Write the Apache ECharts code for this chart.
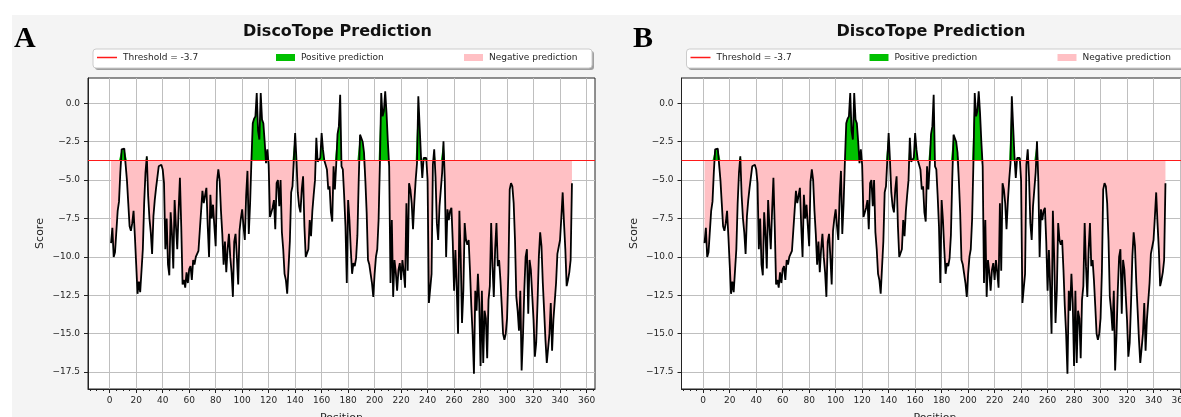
<!DOCTYPE html>
<html><head><meta charset="utf-8">
<script src="https://cdn.jsdelivr.net/npm/echarts@6/dist/echarts.min.js"></script>
<style>html,body{margin:0;padding:0;background:#fff}#c{width:1181px;height:417px}</style>
</head><body><div id="c"></div>
<script>
// DiscoTope scores, positions 1..349
const scores = [
-9.1,-8.1,-10.0,-9.7,-9.8,-7.0,-6.4,-4.5,-3.0,-2.95,
-2.95,-3.0,-5.0,-6.5,-8.0,-8.3,-7.8,-7.0,-8.65,-10.5,
-12.4,-11.6,-12.3,-12.4,-9.5,-6.5,-4.5,-3.45,-6.0,-7.5,
-8.4,-9.8,-7.35,-6.3,-5.5,-4.8,-4.1,-4.2,-4.0,-4.3,
-5.2,-9.5,-7.5,-10.5,-11.2,-7.1,-8.5,-10.75,-6.3,-8.0,
-9.5,-7.0,-4.85,-8.0,-11.8,-11.5,-12.0,-11.0,-11.7,-10.8,
-10.6,-11.5,-10.2,-10.5,-10.0,-9.8,-9.6,-8.3,-7.0,-5.7,
-6.5,-6.0,-5.5,-8.0,-10.0,-5.95,-7.5,-6.6,-8.0,-9.3,
-5.1,-4.3,-5.0,-7.0,-8.5,-10.5,-9.0,-11.0,-9.5,-8.5,
-10.0,-11.0,-12.6,-9.0,-8.5,-10.0,-11.8,-8.3,-7.5,-6.9,
-8.0,-8.9,-6.0,-4.4,-8.5,-6.5,-3.7,-1.3,-1.0,-0.85,
0.67,-1.8,-2.36,0.67,-1.06,-1.3,-2.5,-3.9,-3.0,-4.0,
-7.4,-7.1,-6.8,-6.3,-8.2,-5.2,-5.0,-6.7,-5.0,-8.4,
-9.5,-11.1,-11.5,-12.4,-12.4,-9.0,-5.8,-5.4,-5.4,-1.93,
-3.7,-5.8,-6.7,-7.1,-5.6,-4.75,-8.0,-10.0,-10.1,-9.5,
-7.6,-8.65,-7.0,-5.95,-5.0,-2.25,-3.8,-3.7,-3.55,-1.93,
-3.0,-3.7,-4.0,-4.3,-5.6,-5.4,-7.1,-7.7,-4.1,-5.6,
-4.0,-2.0,-1.5,0.56,-4.1,-4.3,-6.0,-8.0,-11.7,-6.3,
-7.6,-9.5,-11.1,-10.4,-10.6,-10.1,-8.6,-5.0,-2.04,-1.93,
-2.5,-3.2,-5.0,-7.1,-10.2,-10.5,-11.1,-11.7,-12.6,-11.1,
-10.0,-9.5,-7.6,-3.9,0.67,-0.85,-0.5,0.78,-0.63,-2.5,
-4.1,-11.7,-7.6,-12.6,-10.2,-11.0,-12.2,-10.85,-10.4,-11.5,
-10.2,-11.0,-12.0,-6.5,-10.9,-5.2,-5.6,-6.5,-8.2,-6.4,
-5.0,-3.9,0.46,0.35,-3.45,-4.86,-3.56,-3.6,-3.56,-5.0,
-13.0,-12.9,-11.1,-4.0,-3.0,-4.8,-7.8,-8.9,-6.7,-6.7,
-4.5,-2.47,-5.0,-10.0,-6.9,-7.6,-7.0,-6.8,-9.0,-12.2,
-9.55,-12.0,-15.0,-7.0,-10.0,-14.3,-12.2,-7.8,-8.9,-9.2,
-8.9,-10.85,-13.2,-15.0,-17.6,-12.2,-13.5,-11.1,-13.0,-17.1,
-12.2,-16.9,-13.5,-14.0,-16.6,-12.8,-11.9,-7.8,-10.6,-12.6,
-9.5,-7.8,-10.6,-10.2,-11.5,-13.2,-15.0,-15.4,-15.0,-14.0,
-11.0,-5.6,-5.2,-5.4,-6.5,-8.9,-12.6,-13.5,-14.8,-12.2,
-17.4,-15.2,-12.2,-10.0,-9.5,-13.7,-10.2,-10.85,-12.5,-14.1,
-16.5,-15.6,-13.0,-10.0,-8.4,-9.3,-11.7,-13.5,-15.4,-16.9,
-16.8,-15.0,-13.0,-16.1,-14.1,-14.0,-11.7,-9.8,-9.9,-8.9,
-7.4,-5.8,-7.8,-9.5,-11.9,-11.5,-11.0,-10.2,-5.2
];
const threshold = -3.7;
const xTickValues = [0,20,40,60,80,100,120,140,160,180,200,220,240,260,280,300,320,340,360];
const xMinorTickValues = [-15,-10,-5,5,10,15,25,30,35,45,50,55,65,70,75,85,90,95,105,110,115,125,130,135,145,150,155,165,170,175,185,190,195,205,210,215,225,230,235,245,250,255,265,270,275,285,290,295,305,310,315,325,330,335,345,350,355,365];
const yTickValues = [-17.5,-15,-12.5,-10,-7.5,-5,-2.5,0];
const panelLabels = ['A','B'];
const titleText = 'DiscoTope Prediction';
const legendNames = ['Threshold = -3.7','Positive prediction','Negative prediction'];

const positions = scores.map((s,i)=>i+1);
const FONT = 'DejaVu Sans';
const offsets = [0, 593.5];
const X_MIN = -16.4, X_MAX = 366.4, Y_MIN = -18.6, Y_MAX = 1.65;
const RED = '#ff1a1a', GREEN = '#00c000', PINK = '#ffc0c4', GRIDC = '#bfbfbf';
const fmtY = v => (v < 0 ? '\u2212' : '') + Math.abs(v).toFixed(1);

const grid = [], xAxis = [], yAxis = [], series = [], title = [], legend = [], graphic = [];
graphic.push({type:'rect', shape:{x:12,y:15,width:1181,height:402}, style:{fill:'#f4f4f4'}, z:-10, silent:true});

offsets.forEach((off, p) => {
  grid.push({left:88+off, top:78, width:507, height:311, show:true, backgroundColor:'#fff',
    borderColor:'#222', borderWidth:1, containLabel:false, outerBoundsMode:'none'});
  xAxis.push({
    type:'value', gridIndex:p, min:X_MIN, max:X_MAX, position:'bottom',
    axisLine:{show:true, onZero:false, lineStyle:{color:'#222', width:1}},
    axisTick:{show:true, customValues:xTickValues, length:4, lineStyle:{color:'#222'}},
    axisLabel:{customValues:xTickValues, fontSize:9, color:'#262626', fontFamily:FONT, margin:7},
    splitLine:{show:true, lineStyle:{color:GRIDC, width:1}},
    name:'Position', nameLocation:'middle', nameGap:24, nameTextStyle:{fontSize:11, color:'#262626', fontFamily:FONT}
  });
  xAxis.push({
    type:'value', gridIndex:p, min:X_MIN, max:X_MAX, position:'bottom',
    axisLine:{show:false, onZero:false}, axisLabel:{show:false}, splitLine:{show:false},
    axisTick:{show:true, customValues:xMinorTickValues, length:2, lineStyle:{color:'#222'}}
  });
  yAxis.push({
    type:'value', gridIndex:p, min:Y_MIN, max:Y_MAX, position:'left',
    axisLine:{show:true, onZero:false, lineStyle:{color:'#222', width:1}},
    axisTick:{show:true, customValues:yTickValues, length:4, lineStyle:{color:'#222'}},
    axisLabel:{customValues:yTickValues, fontSize:9, color:'#262626', fontFamily:FONT, margin:8, formatter:fmtY},
    splitLine:{show:true, lineStyle:{color:GRIDC, width:1}},
    name:'Score', nameLocation:'middle', nameGap:42, nameRotate:90, nameTextStyle:{fontSize:11, color:'#262626', fontFamily:FONT}
  });
  const xi = p*2, yi = p;
  series.push({
    name:legendNames[2], type:'line', xAxisIndex:xi, yAxisIndex:yi, silent:true, showSymbol:false, animation:false,
    data: positions.map((x,i)=>[x, Math.min(scores[i], threshold)]),
    lineStyle:{width:1, opacity:0}, itemStyle:{color:PINK},
    areaStyle:{color:PINK, opacity:1, origin:threshold}, z:1
  });
  series.push({
    name:legendNames[1], type:'line', xAxisIndex:xi, yAxisIndex:yi, silent:true, showSymbol:false, animation:false,
    data: positions.map((x,i)=>[x, Math.max(scores[i], threshold)]),
    lineStyle:{width:1, opacity:0}, itemStyle:{color:GREEN},
    areaStyle:{color:GREEN, opacity:1, origin:threshold}, z:2
  });
  series.push({
    name:legendNames[0], type:'line', xAxisIndex:xi, yAxisIndex:yi, silent:true, showSymbol:false, animation:false,
    data: positions.map(x=>[x, threshold]),
    lineStyle:{width:1, opacity:0, color:RED}, itemStyle:{color:RED}, z:3,
    markLine:{silent:true, symbol:'none', label:{show:false}, animation:false,
      lineStyle:{color:RED, width:1.2, type:'solid', opacity:1}, emphasis:{disabled:true},
      data:[{yAxis:threshold, lineStyle:{color:RED, width:1.2, opacity:1}}]}
  });
  series.push({
    name:'Score', type:'line', xAxisIndex:xi, yAxisIndex:yi, silent:true, showSymbol:false, animation:false,
    data: positions.map((x,i)=>[x, scores[i]]),
    lineStyle:{width:1.8, color:'#000'}, itemStyle:{color:'#000'}, z:4
  });
  title.push({text:titleText, left:332.5+off, textAlign:'center', top:19,
    textStyle:{fontSize:16, fontWeight:'bold', fontFamily:FONT, color:'#111'}});
  graphic.push({type:'rect', shape:{x:95+off, y:51, width:499, height:19, r:3}, style:{fill:'rgba(0,0,0,0.35)'}, z:0, silent:true});
  graphic.push({type:'rect', shape:{x:93+off, y:49, width:499, height:19, r:3}, style:{fill:'#fff', stroke:'#cccccc', lineWidth:1}, z:1, silent:true});
  const legendLefts = [97, 276, 464];
  legendLefts.forEach((lx, k) => {
    legend.push({
      data:[{name:legendNames[k], icon:'rect', itemStyle:{color:[RED,GREEN,PINK][k], opacity:1}}],
      left:lx+off, top:53, padding:0,
      itemWidth: k===0 ? 20 : 19, itemHeight: k===0 ? 1.5 : 7, itemGap:0,
      selectedMode:false, z:5,
      textStyle:{fontSize:9, color:'#262626', fontFamily:FONT, padding:[0,0,0,1]}
    });
  });
  graphic.push({type:'text', left: p===0 ? 14 : 633, top:24, z:5, silent:true,
    style:{text:panelLabels[p], font:'bold 30px "Liberation Serif"', fill:'#000'}});
});

const chart = echarts.init(document.getElementById('c'), null, {renderer:'canvas'});
chart.setOption({animation:false, backgroundColor:'#ffffff', grid, xAxis, yAxis, series, title, legend, graphic});
</script></body></html>
